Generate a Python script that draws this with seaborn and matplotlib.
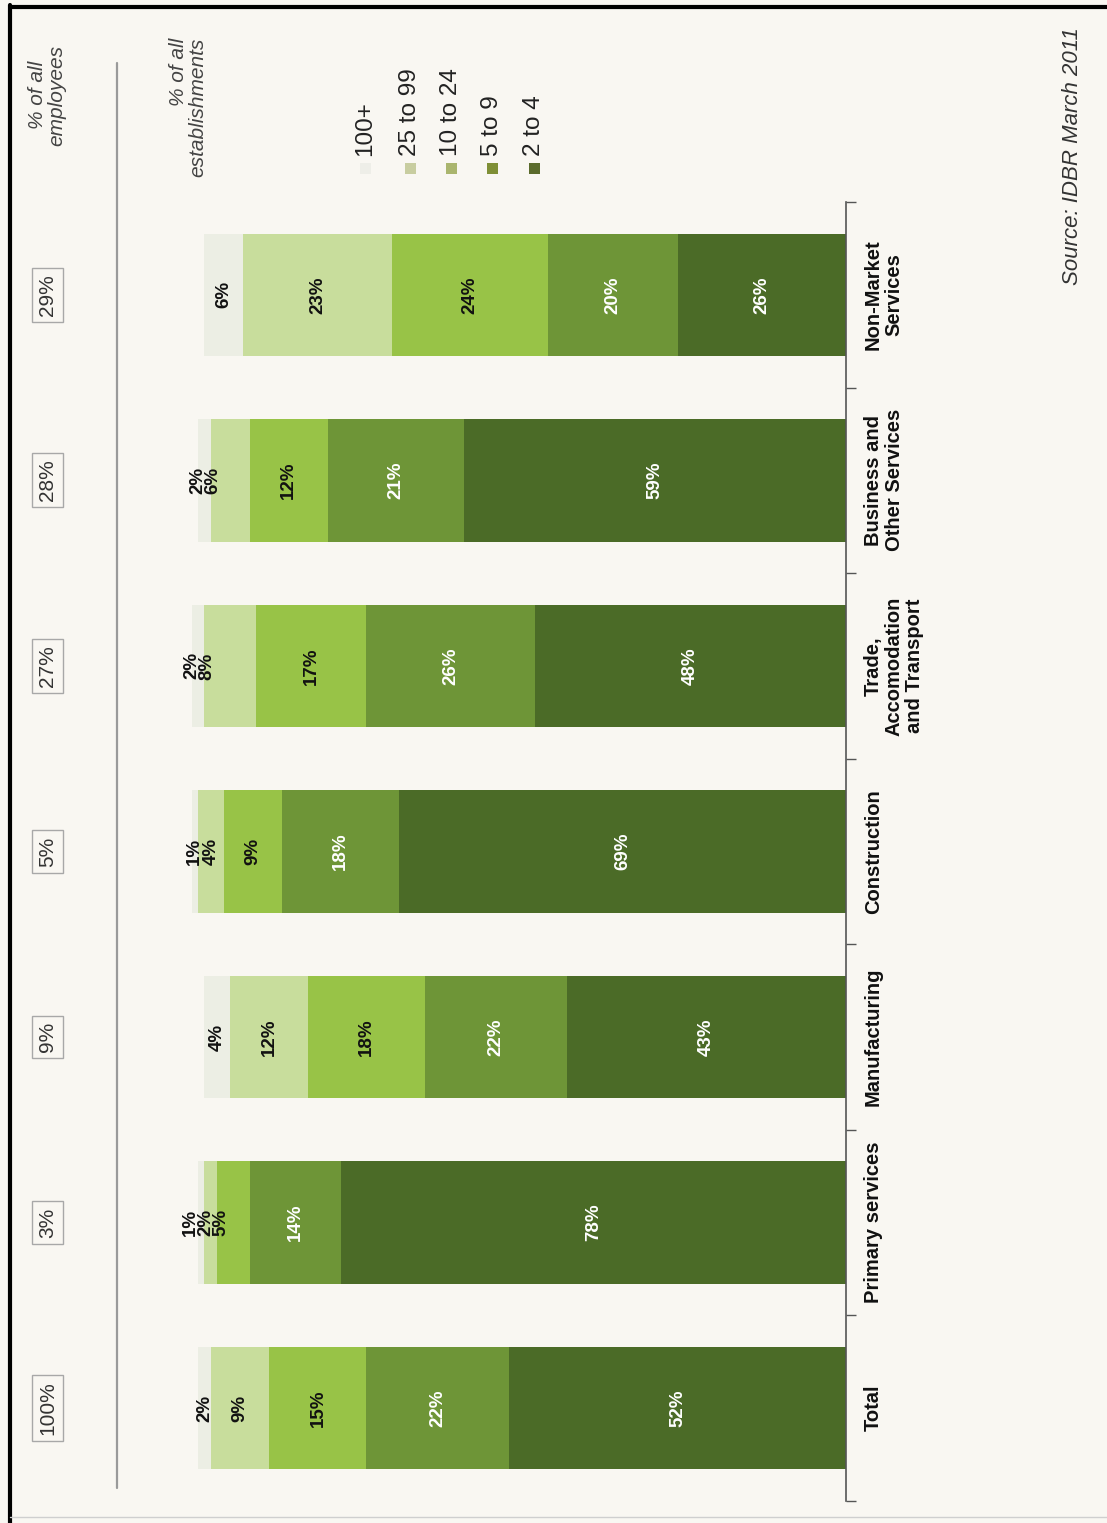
import numpy as np
import pandas as pd
import matplotlib
matplotlib.use("Agg")
import matplotlib.pyplot as plt
import matplotlib.transforms as mtransforms
from matplotlib.lines import Line2D
from matplotlib.patches import Rectangle
import seaborn as sns

# ---- data -------------------------------------------------------------
categories = ["Total", "Primary services", "Manufacturing", "Construction",
              "Trade,\nAccomodation\nand Transport",
              "Business and\nOther Services", "Non-Market\nServices"]
size_bands = ["2 to 4", "5 to 9", "10 to 24", "25 to 99", "100+"]
share_2_to_4 = [52, 78, 43, 69, 48, 59, 26]
share_5_to_9 = [22, 14, 22, 18, 26, 21, 20]
share_10_to_24 = [15, 5, 18, 9, 17, 12, 24]
share_25_to_99 = [9, 2, 12, 4, 8, 6, 23]
share_100_plus = [2, 1, 4, 1, 2, 2, 6]
employee_share = ["100%", "3%", "9%", "5%", "27%", "28%", "29%"]
# number of outermost bands whose labels are stacked together at the bar end
grouped_outer = [0, 3, 0, 0, 2, 2, 0]

band_colors = ["#4b6b27", "#6e9537", "#98c347", "#c8dd9c", "#eceee4"]
legend_colors = ["#5b6b2c", "#7f8f36", "#aab56e", "#c8cda0", "#eeeee8"]
label_colors = ["white", "white", "#111111", "#111111", "#111111"]

# ---- style ------------------------------------------------------------
W, H = 1107, 1523
BG = "#f9f7f2"
sns.set_theme(style="white")
plt.rcParams["font.family"] = ["Liberation Sans", "DejaVu Sans"]

fig = plt.figure(figsize=(W / 100, H / 100), dpi=100, facecolor=BG)
ax = fig.add_axes([165.6 / W, 1 - 1501 / H, (846 - 165.6) / W, (1501 - 202) / H])
ax.set_facecolor(BG)

shares = np.array([share_2_to_4, share_5_to_9, share_10_to_24,
                   share_25_to_99, share_100_plus], dtype=float)
cumulative = shares.cumsum(axis=0)

# stacked bars: draw the longest cumulative total first, then overlay shorter ones
for k in reversed(range(len(size_bands))):
    df = pd.DataFrame({"category": categories, "share": cumulative[k]})
    sns.barplot(data=df, x="share", y="category", order=categories, orient="h",
                color=band_colors[k], width=0.66, saturation=1, errorbar=None,
                edgecolor="none", linewidth=0, ax=ax)

ax.set_xlim(105, 0)
ax.set_ylim(-0.5, 6.5)
ax.set_xlabel("")
ax.set_ylabel("")
ax.set_xticks([])
for side in ["left", "top", "bottom"]:
    ax.spines[side].set_visible(False)
ax.spines["right"].set_color("#555555")
ax.spines["right"].set_linewidth(1.2)

ax.yaxis.tick_right()
ax.set_yticks(range(len(categories)))
ax.set_yticklabels(categories, rotation=90, va="center", ha="left",
                   multialignment="center", fontweight="bold", fontsize=14.5,
                   color="#111111", linespacing=1.1)
ax.set_yticks(np.arange(-0.5, len(categories), 1), minor=True)
ax.tick_params(axis="y", which="major", length=0, pad=13)
ax.tick_params(axis="y", which="minor", length=7, width=1, color="#555555",
               right=True, left=False)

# ---- value labels -----------------------------------------------------
for i in range(len(categories)):
    n_group = grouped_outer[i]
    first_grouped = len(size_bands) - n_group
    for k in range(first_grouped):
        xc = cumulative[k, i] - shares[k, i] / 2
        ax.text(xc, i, f"{int(shares[k, i])}%", rotation=90, ha="center",
                va="center", fontsize=13.5, fontweight="bold",
                color=label_colors[k])
    if n_group:
        lines = [f"{int(shares[k, i])}%"
                 for k in reversed(range(first_grouped, len(size_bands)))]
        ax.text(cumulative[-1, i] - 1.2, i, "\n".join(lines), rotation=90,
                ha="center", va="center", fontsize=13.5, fontweight="bold",
                color="#111111", linespacing=0.85)

# ---- employee share boxes --------------------------------------------
blend = mtransforms.blended_transform_factory(fig.transFigure, ax.transData)
for i, txt in enumerate(employee_share):
    ax.text(47.5 / W, i, txt, transform=blend, rotation=90, ha="center",
            va="center", fontsize=15, color="#333333",
            bbox=dict(boxstyle="square,pad=0.3", fc=BG, ec="#a8a8a8", lw=1))

fig.add_artist(Line2D([117 / W, 117 / W], [1 - 63 / H, 1 - 1488 / H],
                      color="#9a9a9a", lw=1.6))

fig.text(47 / W, 1 - 95 / H, "% of all\nemployees", rotation=90, ha="center",
         va="center", multialignment="center", style="italic", fontsize=15,
         color="#444444", linespacing=1.05)
fig.text(188 / W, 1 - 38 / H, "% of all\nestablishments", rotation=90,
         ha="center", va="top", multialignment="right", style="italic",
         fontsize=15, color="#444444", linespacing=1.05)

# ---- legend -----------------------------------------------------------
legend_x = [365, 410, 451, 492, 534]
for j, k in enumerate(reversed(range(len(size_bands)))):
    x = legend_x[j]
    fig.text(x / W, 1 - 156 / H, size_bands[k], rotation=90, ha="center",
             va="bottom", fontsize=17.5, color="#222222")
    fig.add_artist(Rectangle(((x - 5.5) / W, 1 - 174 / H), 11 / W, 11 / H,
                             transform=fig.transFigure, fc=legend_colors[k],
                             ec="none"))

fig.text(1073 / W, 1 - 27 / H, "Source: IDBR March 2011", rotation=90,
         ha="center", va="top", style="italic", fontsize=16, color="#333333")

# ---- page frame -------------------------------------------------------
fig.add_artist(Line2D([9.5 / W, 9.5 / W], [0, 1 - 5 / H], color="black", lw=3))
fig.add_artist(Line2D([9.5 / W, 1], [1 - 6.5 / H, 1 - 6.5 / H], color="black", lw=3))
fig.add_artist(Line2D([9.5 / W, 1], [1 - 1517 / H, 1 - 1517 / H],
                      color="#cfcfcf", lw=1))

fig.savefig("out.png", dpi=100, facecolor=BG)
